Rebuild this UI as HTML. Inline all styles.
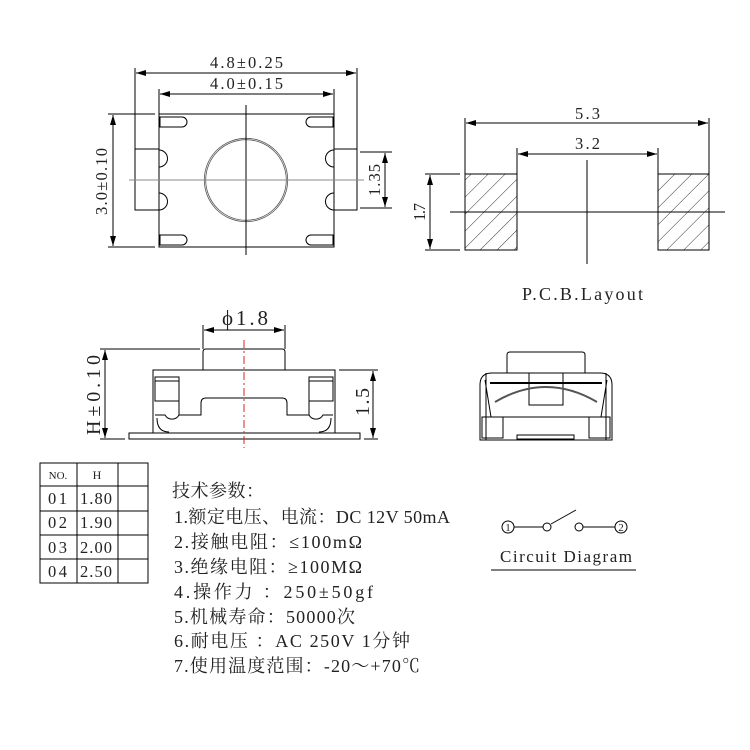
<!DOCTYPE html>
<html><head><meta charset="utf-8"><style>
html,body{margin:0;padding:0;background:#fff}
svg{display:block}
text{font-family:"Liberation Serif","Noto Serif CJK SC",serif;fill:#222}
</style></head><body>
<svg width="750" height="750" viewBox="0 0 750 750" xmlns="http://www.w3.org/2000/svg">
<defs>
<marker id="a" viewBox="0 0 10 6" refX="10" refY="3" markerWidth="10" markerHeight="6" orient="auto-start-reverse" markerUnits="userSpaceOnUse"><path d="M0,0L10,3L0,6z" fill="#000"/></marker>
<pattern id="h" patternUnits="userSpaceOnUse" width="12" height="12" patternTransform="rotate(45)"><line x1="0" y1="0" x2="0" y2="12" stroke="#000" stroke-width="0.8"/></pattern>
</defs>
<g stroke="#000" stroke-width="1" fill="none">
<rect x="159" y="114" width="175" height="133"/>
<rect x="135" y="149" width="24" height="61"/>
<rect x="334" y="149" width="23" height="61"/>
<path d="M160,117h22a5,5 0 0 1 0,10h-22z M160,235h22a5,5 0 0 1 0,10h-22z M333,117h-22a5,5 0 0 0 0,10h22z M333,235h-22a5,5 0 0 0 0,10h22z"/>
<path d="M159,150a8,8 0 0 1 0,17 M159,193a8,8 0 0 1 0,17 M334,150a8,8 0 0 0 0,17 M334,193a8,8 0 0 0 0,17"/>
<circle cx="246" cy="180" r="41" stroke-width="2.2" stroke="#555"/>
<circle cx="246" cy="180" r="41" stroke-width="0.6" stroke="#fff"/>
<line x1="246" y1="105" x2="246" y2="255"/>
<line x1="129" y1="180" x2="364" y2="180" stroke="#888"/>
<line x1="135" y1="68" x2="135" y2="149"/><line x1="357" y1="68" x2="357" y2="149"/>
<line x1="136" y1="73" x2="356" y2="73" marker-start="url(#a)" marker-end="url(#a)"/>
<line x1="159" y1="89" x2="159" y2="114"/><line x1="334" y1="89" x2="334" y2="114"/>
<line x1="160" y1="94" x2="333" y2="94" marker-start="url(#a)" marker-end="url(#a)"/>
<line x1="108" y1="114" x2="155" y2="114"/><line x1="108" y1="247" x2="155" y2="247"/>
<line x1="113" y1="115" x2="113" y2="246" marker-start="url(#a)" marker-end="url(#a)"/>
<line x1="360" y1="152" x2="392" y2="152"/><line x1="360" y1="208" x2="392" y2="208"/>
<line x1="385" y1="153" x2="385" y2="207" marker-start="url(#a)" marker-end="url(#a)"/>
<rect x="465" y="174" width="52" height="76" fill="url(#h)"/>
<rect x="658" y="174" width="51" height="76" fill="url(#h)"/>
<line x1="450" y1="212" x2="725" y2="212"/>
<line x1="587" y1="160" x2="587" y2="264"/>
<line x1="465" y1="118" x2="465" y2="174"/><line x1="709" y1="118" x2="709" y2="174"/>
<line x1="466" y1="123" x2="708" y2="123" marker-start="url(#a)" marker-end="url(#a)"/>
<line x1="517" y1="148" x2="517" y2="174"/><line x1="658" y1="148" x2="658" y2="174"/>
<line x1="518" y1="154" x2="657" y2="154" marker-start="url(#a)" marker-end="url(#a)"/>
<line x1="425" y1="174" x2="460" y2="174"/><line x1="425" y1="250" x2="460" y2="250"/>
<line x1="430" y1="175" x2="430" y2="249" marker-start="url(#a)" marker-end="url(#a)"/>
<path d="M203,370v-18q0,-3 3,-3h76q3,0 3,3v18"/>
<rect x="153" y="370" width="182" height="63"/>
<rect x="129" y="433" width="231" height="6"/>
<rect x="155" y="377" width="24" height="24"/><rect x="309" y="377" width="24" height="24"/>
<line x1="155" y1="381" x2="179" y2="381"/><line x1="309" y1="381" x2="333" y2="381"/>
<path d="M155,415h10a8,8 0 0 0 14,0h22v-12q0,-5 5,-5h76q5,0 5,5v12h22a8,8 0 0 0 14,0h10"/>
<path d="M157,418q0,14 12,14 M331,418q0,14 -12,14 M179,401v14 M309,401v14"/>
<line x1="244" y1="340" x2="244" y2="448" stroke="#d22" stroke-dasharray="8,3,2,3"/>
<line x1="203" y1="325" x2="203" y2="349"/><line x1="285" y1="325" x2="285" y2="349"/>
<line x1="204" y1="330" x2="284" y2="330" marker-start="url(#a)" marker-end="url(#a)"/>
<line x1="100" y1="349" x2="200" y2="349"/><line x1="100" y1="439" x2="125" y2="439"/>
<line x1="105" y1="350" x2="105" y2="438" marker-start="url(#a)" marker-end="url(#a)"/>
<line x1="339" y1="370" x2="378" y2="370"/><line x1="364" y1="439" x2="378" y2="439"/>
<line x1="373" y1="371" x2="373" y2="438" marker-start="url(#a)" marker-end="url(#a)"/>
<path d="M507,373v-18q0,-3 3,-3h72q3,0 3,3v18"/>
<path d="M480,440v-55q0,-12 12,-12h108q12,0 12,12v55z"/>
<line x1="486" y1="373" x2="486" y2="440"/><line x1="606" y1="373" x2="606" y2="440"/>
<line x1="490" y1="383" x2="602" y2="383" stroke-width="2"/>
<path d="M485,380l6,37h110l6,-37"/>
<rect x="529" y="373" width="34" height="32"/>
<path d="M495,402q51,-30 102,0" stroke="#555" stroke-width="2"/>
<rect x="482" y="417" width="21" height="21"/><rect x="589" y="417" width="21" height="21"/>
<rect x="517" y="435" width="57" height="4"/>
<rect x="40" y="463" width="108" height="120"/>
<line x1="77" y1="463" x2="77" y2="583"/><line x1="118" y1="463" x2="118" y2="583"/>
<line x1="40" y1="486" x2="148" y2="486"/><line x1="40" y1="511" x2="148" y2="511"/>
<line x1="40" y1="535" x2="148" y2="535"/><line x1="40" y1="559" x2="148" y2="559"/>
<circle cx="508" cy="527" r="6"/><circle cx="621" cy="527" r="6"/>
<circle cx="547" cy="527" r="4"/><circle cx="579" cy="527" r="4"/>
<line x1="514" y1="527" x2="543" y2="527"/><line x1="583" y1="527" x2="615" y2="527"/>
<line x1="551" y1="524" x2="576" y2="510"/>
<line x1="491" y1="570" x2="636" y2="570"/>
</g>
<g font-size="16.5" lengthAdjust="spacing">
<text x="210" y="68" textLength="73">4.8±0.25</text>
<text x="210" y="89" textLength="73">4.0±0.15</text>
<text transform="translate(107,215) rotate(-90)" textLength="67">3.0±0.10</text>
<text transform="translate(380,196) rotate(-90)" textLength="32">1.35</text>
<text x="575" y="119" textLength="25">5.3</text>
<text x="575" y="149" textLength="25">3.2</text>
<text transform="translate(425,221) rotate(-90)" textLength="18">1.7</text>
<text x="522" y="300" font-size="18" textLength="121">P.C.B.Layout</text>
<text x="222" y="325" font-size="21" textLength="46">ϕ1.8</text>
<text transform="translate(100,435) rotate(-90)" font-size="20" textLength="80">H±0.10</text>
<text transform="translate(369,416) rotate(-90)" font-size="20" textLength="28">1.5</text>
<text x="58" y="479" text-anchor="middle" font-size="11">NO.</text>
<text x="97" y="479" text-anchor="middle" font-size="12">H</text>
<text x="48" y="504" textLength="19">01</text><text x="80" y="504" textLength="32">1.80</text>
<text x="48" y="528" textLength="19">02</text><text x="80" y="528" textLength="32">1.90</text>
<text x="48" y="553" textLength="19">03</text><text x="80" y="553" textLength="32">2.00</text>
<text x="48" y="577" textLength="19">04</text><text x="80" y="577" textLength="32">2.50</text>
<text x="508" y="531" text-anchor="middle" font-size="11">1</text>
<text x="621" y="531" text-anchor="middle" font-size="11">2</text>
<text x="500" y="562" font-size="17" textLength="132">Circuit Diagram</text>
</g>
<g font-size="18" lengthAdjust="spacing">
<text x="172" y="497" textLength="92">技术参数：</text>
<text x="174" y="523" textLength="276">1.额定电压、电流：DC 12V 50mA</text>
<text x="174" y="548" textLength="188">2.接触电阻：≤100mΩ</text>
<text x="174" y="573" textLength="188">3.绝缘电阻：≥100MΩ</text>
<text x="174" y="598" textLength="199">4.操作力  ：250±50gf</text>
<text x="174" y="623" textLength="181">5.机械寿命：50000次</text>
<text x="174" y="647" textLength="236">6.耐电压  ：AC 250V 1分钟</text>
<text x="174" y="672" textLength="246">7.使用温度范围：-20～+70℃</text>
</g>
</svg>
</body></html>
